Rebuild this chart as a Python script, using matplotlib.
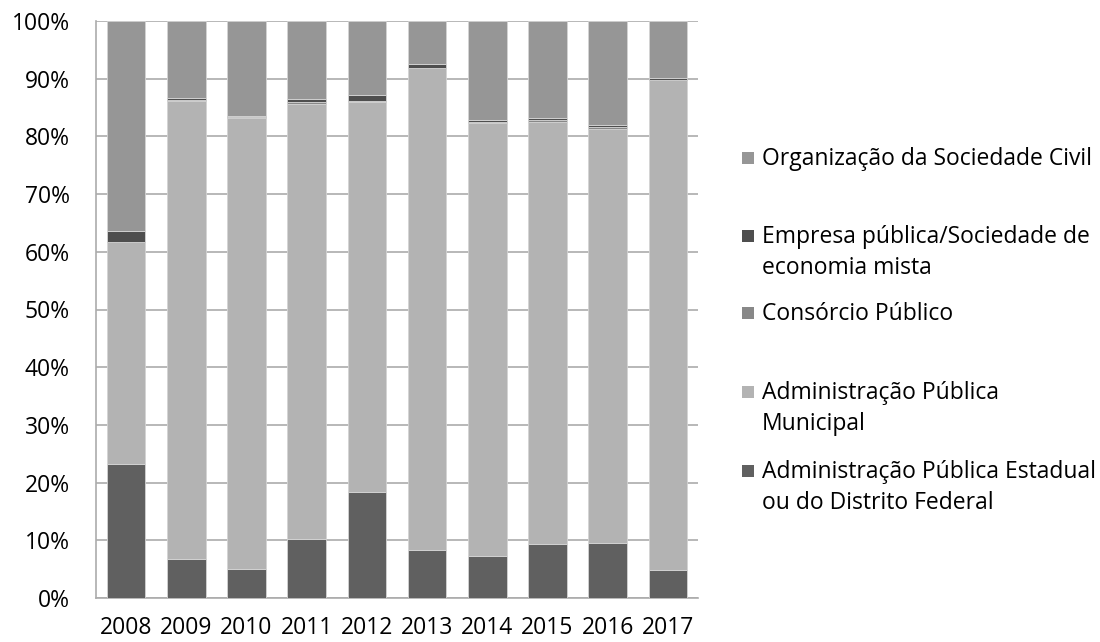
import matplotlib
matplotlib.use("Agg")
import matplotlib.pyplot as plt
from matplotlib.patches import Rectangle
import numpy as np

plt.rcParams['font.family'] = ['Open Sans', 'DejaVu Sans']

years = ['2008', '2009', '2010', '2011', '2012', '2013', '2014', '2015', '2016', '2017']
estadual = [23.3, 6.7, 5.1, 10.3, 18.3, 8.3, 7.2, 9.4, 9.5, 4.9]
municipal = [38.4, 79.5, 78.1, 75.4, 67.6, 83.5, 75.1, 73.1, 71.8, 84.8]
consorcio = [0.0, 0.1, 0.1, 0.3, 0.2, 0.1, 0.25, 0.3, 0.3, 0.1]
empresa = [1.9, 0.4, 0.3, 0.4, 1.1, 0.6, 0.35, 0.4, 0.4, 0.4]
organizacao = [100 - a - b - c - d for a, b, c, d in zip(estadual, municipal, consorcio, empresa)]

series_names = ['Administração Pública Estadual\nou do Distrito Federal',
                'Administração Pública\nMunicipal',
                'Consórcio Público',
                'Empresa pública/Sociedade de\neconomia mista',
                'Organização da Sociedade Civil']
series_values = [estadual, municipal, consorcio, empresa, organizacao]
colors = ['#606060', '#b3b3b3', '#888888', '#4e4e4e', '#969696']
yticks = [0, 10, 20, 30, 40, 50, 60, 70, 80, 90, 100]
ytick_labels = [f'{v}%' for v in yticks]

FS = 16.5
W, H = 1100, 642
fig = plt.figure(figsize=(W / 100, H / 100), dpi=100)
ax = fig.add_axes([96 / W, 44 / H, (698 - 96) / W, (598 - 21) / H])

x = np.arange(len(years))
bottom = np.zeros(len(years))
for vals, col in zip(series_values, colors):
    ax.bar(x, vals, width=0.64, bottom=bottom, color=col, edgecolor='#d4d4d4',
           linewidth=0.6, zorder=3)
    bottom += np.array(vals)

ax.set_xlim(-0.5, len(years) - 0.5)
ax.set_ylim(0, 100)
ax.set_yticks(yticks)
ax.set_yticklabels(ytick_labels)
ax.set_xticks(x)
ax.set_xticklabels(years)
ax.tick_params(axis='y', length=0, pad=19, labelsize=FS, colors='#000000')
ax.tick_params(axis='x', length=0, pad=13, labelsize=FS, colors='#000000')
ax.yaxis.grid(True, color='#ababab', linewidth=1.2, zorder=0)
ax.set_axisbelow(True)
for s in ['top', 'right']:
    ax.spines[s].set_visible(False)
for s in ['left', 'bottom']:
    ax.spines[s].set_color('#ababab')
    ax.spines[s].set_linewidth(1.2)

# legend (top to bottom is reverse of stacking order)
entry_y = [157, 235, 312, 391, 470]
line_gap = 31
sq = 12
text_x = 762
for i, (name, col) in enumerate(zip(series_names[::-1], colors[::-1])):
    y0 = entry_y[i]
    lines = name.split('\n')
    for j, ln in enumerate(lines):
        fig.text(text_x / W, 1 - (y0 + 8 + j * line_gap) / H, ln, fontsize=FS,
                 ha='left', va='baseline', color='#000000')
    fig.patches.append(Rectangle(((text_x - 20) / W, 1 - (y0 + 7) / H), sq / W, sq / H,
                                 transform=fig.transFigure, facecolor=col,
                                 edgecolor='none', figure=fig))

fig.savefig('out.png', dpi=100)
